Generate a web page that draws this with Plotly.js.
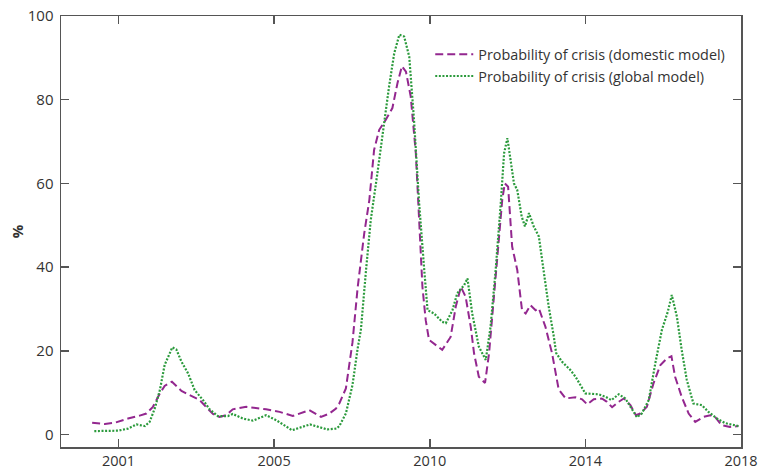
<!DOCTYPE html>
<html>
<head>
<meta charset="utf-8">
<script src="https://cdn.plot.ly/plotly-3.0.1.min.js"></script>
<style>html,body{margin:0;padding:0;background:#fff;}#chart{width:760px;height:470px;}</style>
</head>
<body>
<div id="chart"></div>
<script>
// Axis positions (decimal-year scale; ticks equally spaced every 4.25 years)
const tickPositions = [2001, 2005.25, 2009.5, 2013.75, 2018];
const tickLabels = ["2001", "2005", "2010", "2014", "2018"];
const yTicks = [0, 20, 40, 60, 80, 100];

// Probability of crisis (domestic model), %
const domesticX = [2000.28,2000.63,2000.90,2001.26,2001.58,2001.76,2001.94,2002.13,2002.26,2002.46,2002.72,2002.99,2003.22,2003.40,2003.58,2003.76,2003.94,2004.12,2004.49,2005.03,2005.40,2005.76,2006.21,2006.53,2006.76,2006.94,2007.03,2007.21,2007.39,2007.53,2007.71,2007.85,2007.98,2008.12,2008.30,2008.48,2008.62,2008.74,2008.85,2008.98,2009.12,2009.21,2009.30,2009.39,2009.48,2009.66,2009.84,2010.07,2010.21,2010.35,2010.48,2010.62,2010.71,2010.84,2011.01,2011.12,2011.21,2011.34,2011.48,2011.55,2011.64,2011.75,2011.89,2012.02,2012.12,2012.25,2012.39,2012.48,2012.66,2012.84,2013.02,2013.21,2013.48,2013.66,2013.80,2013.98,2014.20,2014.34,2014.48,2014.66,2014.80,2014.98,2015.13,2015.25,2015.43,2015.61,2015.80,2015.98,2016.10,2016.20,2016.38,2016.57,2016.75,2016.98,2017.16,2017.29,2017.47,2017.70,2017.93];
const domesticY = [2.8,2.5,2.8,3.8,4.5,5.0,6.6,9.8,11.6,12.6,10.4,9.2,8.2,6.5,4.9,4.2,4.6,6.0,6.6,6.0,5.4,4.4,5.8,4.2,5.0,6.2,7.4,11.0,22.0,35.0,48.0,56.0,68.0,72.8,75.2,78.0,84.0,88.0,86.7,80.8,67.2,51.3,35.3,27.3,22.6,21.4,20.2,23.3,30.5,35.3,32.9,25.7,19.4,13.8,12.3,19.4,28.9,43.3,56.1,60.0,59.2,44.9,39.3,29.7,28.9,30.9,29.7,30.1,25.7,19.4,10.8,8.6,8.9,8.4,7.2,8.4,8.6,7.8,6.5,7.8,8.6,7.0,4.6,5.0,6.6,12.2,16.6,18.2,18.7,13.8,9.0,5.0,3.0,4.2,4.6,4.2,2.2,1.8,2.0];

// Probability of crisis (global model), %
const globalX = [2000.34,2000.63,2000.99,2001.26,2001.49,2001.72,2001.85,2001.99,2002.13,2002.26,2002.40,2002.47,2002.58,2002.72,2002.90,2003.08,2003.31,2003.49,2003.71,2003.99,2004.12,2004.40,2004.67,2005.03,2005.31,2005.74,2006.23,2006.49,2006.70,2006.95,2007.03,2007.21,2007.39,2007.53,2007.62,2007.76,2007.89,2008.07,2008.26,2008.39,2008.53,2008.67,2008.80,2008.94,2009.07,2009.21,2009.35,2009.44,2009.62,2009.84,2009.94,2010.12,2010.25,2010.44,2010.53,2010.66,2010.84,2011.03,2011.16,2011.30,2011.44,2011.53,2011.62,2011.71,2011.80,2011.89,2012.01,2012.10,2012.21,2012.34,2012.48,2012.62,2012.75,2012.89,2012.95,2013.11,2013.34,2013.48,2013.75,2014.11,2014.30,2014.46,2014.66,2014.84,2015.02,2015.16,2015.29,2015.48,2015.66,2015.84,2016.00,2016.11,2016.25,2016.38,2016.52,2016.70,2016.93,2017.11,2017.34,2017.57,2017.93];
const globalY = [0.8,0.8,0.9,1.4,2.4,2.0,3.0,6.2,10.6,16.6,19.4,20.8,20.3,17.4,14.6,10.6,8.2,6.0,4.4,4.4,4.9,3.8,3.3,4.6,3.4,1.0,2.4,1.8,1.2,1.4,2.0,5.0,11.8,20.5,25.0,39.3,51.3,62.4,75.2,83.2,91.1,95.5,95.1,90.3,75.2,55.3,39.3,29.7,28.9,26.9,26.6,29.7,33.7,35.7,37.3,28.9,21.0,17.8,25.7,39.3,55.3,67.2,70.8,64.8,60.0,58.4,52.1,49.7,52.9,49.7,47.3,38.5,30.5,23.3,19.5,17.4,15.4,13.8,9.8,9.6,9.0,8.2,9.6,8.6,6.2,4.1,5.0,8.2,17.0,25.0,29.3,33.3,28.1,20.2,13.0,7.4,7.0,5.4,3.8,2.7,2.0];

const seriesNames = ["Probability of crisis (domestic model)", "Probability of crisis (global model)"];

const fontFam = '"Open Sans", "Noto Sans", sans-serif';
const axisColor = '#555555';

const traces = [
  {x: domesticX, y: domesticY, name: seriesNames[0], type: 'scatter', mode: 'lines',
   line: {color: '#93278f', width: 2, dash: '8px,4px'}},
  {x: globalX, y: globalY, name: seriesNames[1], type: 'scatter', mode: 'lines',
   line: {color: '#2b9a3c', width: 2.2, dash: '2px,1.6px'}}
];

const layout = {
  width: 760, height: 470,
  margin: {l: 61, r: 19, t: 16, b: 23, pad: 0},
  paper_bgcolor: '#ffffff', plot_bgcolor: '#ffffff',
  font: {family: fontFam, size: 14, color: '#333333'},
  showlegend: true,
  legend: {x: 0.543, y: 0.948, xanchor: 'left', yanchor: 'top', bgcolor: 'rgba(0,0,0,0)',
           font: {family: fontFam, size: 14.4, color: '#333333'}, tracegroupgap: 0, itemwidth: 38},
  xaxis: {range: [1999.43, 2018.0], tickmode: 'array', tickvals: tickPositions, ticktext: tickLabels,
          ticks: 'inside', ticklen: 8, tickwidth: 1.5, tickcolor: axisColor,
          showline: true, linecolor: axisColor, linewidth: 1.5, mirror: 'ticks',
          showgrid: false, zeroline: false, ticklabelstandoff: 0, tickfont: {size: 14.5, color: '#333333'}},
  yaxis: {range: [-3, 100], tickmode: 'array', tickvals: yTicks,
          ticks: 'inside', ticklen: 8, tickwidth: 1.5, tickcolor: axisColor,
          showline: true, linecolor: axisColor, linewidth: 1.5, mirror: 'ticks',
          showgrid: false, zeroline: false, ticklabelstandoff: 3, tickfont: {size: 15, color: '#333333'},
          title: {text: '<b>%</b>', font: {size: 15, color: '#333333'}, standoff: 0}}
};

Plotly.newPlot('chart', traces, layout, {displayModeBar: false, staticPlot: true});
</script>
</body>
</html>
